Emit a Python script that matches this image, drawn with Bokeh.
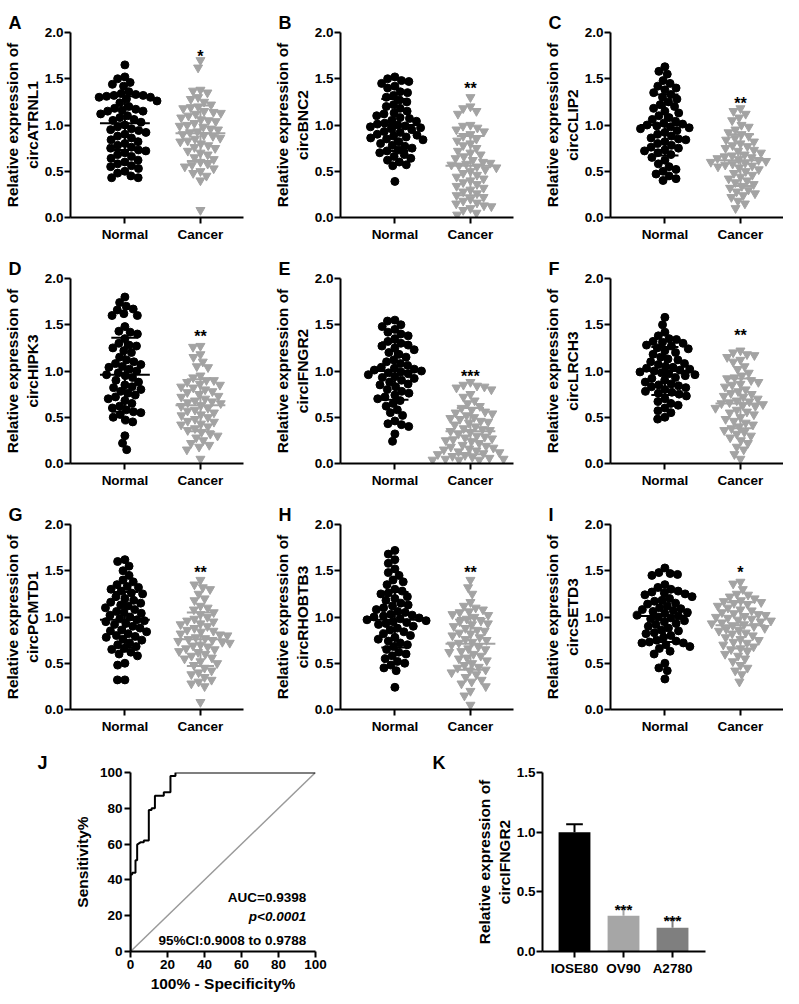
import math
from bokeh.plotting import figure
from bokeh.layouts import column, row
from bokeh.models import ColumnDataSource, FixedTicker, LinearAxis, Range1d, PrintfTickFormatter
from bokeh.core.properties import value
from bokeh.embed import file_html
from bokeh.resources import INLINE

FONT = "Liberation Sans"

# ---------------- data ----------------
panel_letters = ["A", "B", "C", "D", "E", "F", "G", "H", "I"]
gene_names = ["circATRNL1", "circBNC2", "circCLIP2", "circHIPK3", "circIFNGR2",
              "circLRCH3", "circPCMTD1", "circRHOBTB3", "circSETD3"]
group_labels = ["Normal", "Cancer"]
sig_marks = ["*", "**", "**", "**", "***", "**", "**", "**", "*"]
sig_y = [1.83, 1.48, 1.32, 1.46, 1.03, 1.47, 1.57, 1.57, 1.57]

normal_A = [1.65, 1.52, 1.50, 1.46, 1.44, 1.42, 1.36, 1.34, 1.33, 1.32, 1.32, 1.31, 1.30, 1.30, 1.28, 1.26,
            1.24, 1.20, 1.18, 1.17, 1.16, 1.15, 1.15, 1.12, 1.10, 1.08, 1.06, 1.05, 1.03, 1.00, 0.98, 0.96,
            0.95, 0.94, 0.92, 0.90, 0.88, 0.86, 0.84, 0.82, 0.80, 0.78, 0.76, 0.75, 0.73, 0.72, 0.70, 0.68,
            0.66, 0.64, 0.62, 0.60, 0.58, 0.56, 0.55, 0.53, 0.50, 0.48, 0.45, 0.43, 0.43]
cancer_A = [1.70, 1.62, 1.38, 1.37, 1.35, 1.30, 1.28, 1.25, 1.22, 1.20, 1.19, 1.18, 1.15, 1.14, 1.13, 1.12,
            1.10, 1.08, 1.06, 1.05, 1.04, 1.02, 1.00, 0.99, 0.98, 0.96, 0.95, 0.93, 0.92, 0.90, 0.89, 0.88,
            0.86, 0.85, 0.83, 0.82, 0.80, 0.78, 0.76, 0.75, 0.72, 0.70, 0.68, 0.65, 0.63, 0.60, 0.58, 0.57,
            0.55, 0.53, 0.50, 0.48, 0.45, 0.40, 0.08]
normal_B = [1.52, 1.50, 1.48, 1.47, 1.45, 1.42, 1.40, 1.36, 1.35, 1.32, 1.30, 1.27, 1.25, 1.22, 1.20, 1.18,
            1.15, 1.13, 1.12, 1.10, 1.08, 1.07, 1.05, 1.04, 1.02, 1.01, 1.00, 0.99, 0.98, 0.97, 0.96, 0.95,
            0.93, 0.92, 0.90, 0.89, 0.88, 0.87, 0.86, 0.85, 0.84, 0.82, 0.80, 0.78, 0.77, 0.75, 0.73, 0.72,
            0.70, 0.68, 0.66, 0.64, 0.62, 0.60, 0.57, 0.56, 0.39]
cancer_B = [1.30, 1.20, 1.18, 1.15, 1.12, 1.00, 0.99, 0.97, 0.95, 0.93, 0.90, 0.88, 0.85, 0.83, 0.80, 0.78,
            0.75, 0.72, 0.70, 0.68, 0.66, 0.64, 0.62, 0.60, 0.59, 0.58, 0.57, 0.56, 0.55, 0.54, 0.52, 0.50,
            0.48, 0.46, 0.44, 0.42, 0.40, 0.38, 0.36, 0.34, 0.32, 0.30, 0.28, 0.26, 0.24, 0.22, 0.20, 0.18,
            0.16, 0.15, 0.13, 0.12, 0.10, 0.08, 0.05, 0.03]
normal_C = [1.63, 1.58, 1.55, 1.48, 1.45, 1.42, 1.40, 1.38, 1.35, 1.33, 1.30, 1.28, 1.25, 1.22, 1.20, 1.18,
            1.15, 1.13, 1.10, 1.08, 1.06, 1.04, 1.02, 1.01, 1.00, 0.99, 0.98, 0.97, 0.96, 0.94, 0.92, 0.90,
            0.88, 0.86, 0.85, 0.84, 0.82, 0.80, 0.78, 0.76, 0.75, 0.73, 0.72, 0.70, 0.68, 0.65, 0.62, 0.58,
            0.55, 0.52, 0.50, 0.47, 0.45, 0.42, 0.40]
cancer_C = [1.18, 1.15, 1.12, 1.08, 1.05, 1.00, 0.98, 0.95, 0.92, 0.90, 0.88, 0.86, 0.84, 0.82, 0.80, 0.78,
            0.77, 0.75, 0.73, 0.72, 0.70, 0.68, 0.67, 0.66, 0.65, 0.64, 0.63, 0.62, 0.61, 0.60, 0.59, 0.58,
            0.57, 0.56, 0.55, 0.54, 0.52, 0.50, 0.48, 0.46, 0.44, 0.42, 0.40, 0.38, 0.36, 0.34, 0.32, 0.30,
            0.28, 0.26, 0.24, 0.22, 0.18, 0.15, 0.10]
normal_D = [1.80, 1.74, 1.70, 1.67, 1.66, 1.62, 1.60, 1.60, 1.48, 1.43, 1.42, 1.40, 1.35, 1.30, 1.28, 1.27,
            1.25, 1.22, 1.20, 1.15, 1.12, 1.10, 1.08, 1.07, 1.05, 1.04, 1.02, 1.00, 0.98, 0.96, 0.95, 0.93,
            0.90, 0.88, 0.85, 0.83, 0.82, 0.80, 0.78, 0.76, 0.74, 0.72, 0.70, 0.68, 0.65, 0.62, 0.60, 0.58,
            0.56, 0.55, 0.53, 0.50, 0.47, 0.45, 0.30, 0.22, 0.15]
cancer_D = [1.27, 1.26, 1.18, 1.15, 1.10, 1.05, 1.04, 0.95, 0.93, 0.90, 0.90, 0.88, 0.86, 0.85, 0.83, 0.82,
            0.80, 0.78, 0.77, 0.75, 0.73, 0.72, 0.70, 0.68, 0.67, 0.66, 0.65, 0.63, 0.62, 0.60, 0.58, 0.57,
            0.55, 0.53, 0.52, 0.50, 0.48, 0.46, 0.45, 0.43, 0.42, 0.40, 0.38, 0.36, 0.34, 0.32, 0.30, 0.28,
            0.25, 0.22, 0.20, 0.18, 0.15, 0.05]
normal_E = [1.55, 1.54, 1.50, 1.48, 1.45, 1.42, 1.40, 1.38, 1.35, 1.32, 1.30, 1.28, 1.27, 1.25, 1.23, 1.20,
            1.18, 1.15, 1.12, 1.10, 1.08, 1.06, 1.04, 1.03, 1.02, 1.01, 1.00, 0.99, 0.98, 0.97, 0.96, 0.94,
            0.93, 0.92, 0.90, 0.88, 0.86, 0.85, 0.83, 0.80, 0.78, 0.76, 0.74, 0.72, 0.70, 0.68, 0.65, 0.62,
            0.58, 0.55, 0.52, 0.46, 0.43, 0.42, 0.40, 0.32, 0.24]
cancer_E = [0.88, 0.85, 0.84, 0.83, 0.82, 0.80, 0.75, 0.72, 0.68, 0.65, 0.62, 0.60, 0.58, 0.56, 0.55, 0.54,
            0.52, 0.50, 0.49, 0.48, 0.46, 0.45, 0.44, 0.42, 0.40, 0.38, 0.37, 0.36, 0.35, 0.34, 0.32, 0.30,
            0.29, 0.28, 0.27, 0.26, 0.25, 0.24, 0.22, 0.20, 0.19, 0.18, 0.17, 0.16, 0.15, 0.14, 0.13, 0.12,
            0.11, 0.10, 0.09, 0.08, 0.07, 0.06, 0.05, 0.05, 0.04, 0.04, 0.04]
normal_F = [1.58, 1.50, 1.42, 1.38, 1.35, 1.34, 1.32, 1.31, 1.30, 1.28, 1.27, 1.25, 1.24, 1.22, 1.20, 1.18,
            1.15, 1.13, 1.12, 1.10, 1.08, 1.07, 1.05, 1.04, 1.03, 1.02, 1.01, 1.00, 0.99, 0.98, 0.97, 0.96,
            0.95, 0.93, 0.92, 0.90, 0.88, 0.86, 0.85, 0.84, 0.83, 0.82, 0.80, 0.78, 0.77, 0.76, 0.75, 0.73,
            0.70, 0.67, 0.65, 0.63, 0.60, 0.57, 0.55, 0.50, 0.48]
cancer_F = [1.22, 1.20, 1.18, 1.17, 1.15, 1.12, 1.10, 1.05, 1.02, 0.98, 0.95, 0.93, 0.92, 0.90, 0.88, 0.86,
            0.85, 0.83, 0.80, 0.78, 0.76, 0.75, 0.73, 0.72, 0.70, 0.68, 0.67, 0.66, 0.65, 0.64, 0.63, 0.62,
            0.60, 0.58, 0.56, 0.55, 0.53, 0.50, 0.48, 0.46, 0.44, 0.42, 0.40, 0.38, 0.36, 0.34, 0.32, 0.30,
            0.28, 0.25, 0.22, 0.18, 0.15, 0.10, 0.05]
normal_G = [1.62, 1.60, 1.55, 1.50, 1.45, 1.40, 1.38, 1.35, 1.33, 1.32, 1.30, 1.28, 1.26, 1.25, 1.22, 1.20,
            1.18, 1.16, 1.15, 1.13, 1.12, 1.10, 1.08, 1.06, 1.05, 1.04, 1.02, 1.00, 0.98, 0.97, 0.96, 0.95,
            0.93, 0.92, 0.90, 0.88, 0.86, 0.85, 0.84, 0.82, 0.80, 0.79, 0.78, 0.76, 0.75, 0.72, 0.70, 0.68,
            0.66, 0.65, 0.62, 0.60, 0.58, 0.50, 0.48, 0.32, 0.32]
cancer_G = [1.40, 1.35, 1.32, 1.30, 1.25, 1.20, 1.18, 1.12, 1.10, 1.08, 1.05, 1.03, 1.00, 0.98, 0.96, 0.95,
            0.93, 0.92, 0.90, 0.88, 0.86, 0.85, 0.84, 0.82, 0.81, 0.80, 0.78, 0.77, 0.76, 0.75, 0.74, 0.73,
            0.72, 0.70, 0.69, 0.68, 0.66, 0.65, 0.63, 0.62, 0.60, 0.58, 0.56, 0.55, 0.52, 0.50, 0.48, 0.45,
            0.42, 0.40, 0.38, 0.35, 0.32, 0.30, 0.28, 0.25, 0.08]
normal_H = [1.72, 1.68, 1.62, 1.58, 1.52, 1.48, 1.45, 1.40, 1.38, 1.35, 1.30, 1.28, 1.26, 1.25, 1.22, 1.20,
            1.18, 1.15, 1.13, 1.12, 1.10, 1.08, 1.06, 1.05, 1.03, 1.02, 1.01, 1.00, 0.99, 0.98, 0.97, 0.96,
            0.95, 0.94, 0.93, 0.92, 0.90, 0.88, 0.86, 0.84, 0.82, 0.80, 0.78, 0.76, 0.74, 0.72, 0.70, 0.68,
            0.65, 0.62, 0.60, 0.58, 0.55, 0.52, 0.50, 0.48, 0.45, 0.42, 0.24]
cancer_H = [1.40, 1.32, 1.25, 1.16, 1.12, 1.10, 1.08, 1.06, 1.05, 1.03, 1.02, 1.00, 0.98, 0.96, 0.95, 0.93,
            0.92, 0.90, 0.88, 0.86, 0.85, 0.83, 0.82, 0.80, 0.78, 0.76, 0.75, 0.73, 0.72, 0.70, 0.68, 0.66,
            0.65, 0.63, 0.62, 0.60, 0.58, 0.56, 0.55, 0.53, 0.50, 0.48, 0.46, 0.45, 0.43, 0.42, 0.40, 0.38,
            0.35, 0.32, 0.30, 0.28, 0.25, 0.20, 0.15, 0.05]
normal_I = [1.53, 1.48, 1.47, 1.46, 1.45, 1.35, 1.32, 1.30, 1.28, 1.27, 1.26, 1.25, 1.24, 1.22, 1.20, 1.18,
            1.17, 1.15, 1.14, 1.12, 1.10, 1.09, 1.08, 1.07, 1.06, 1.05, 1.04, 1.02, 1.01, 1.00, 0.99, 0.98,
            0.96, 0.95, 0.93, 0.92, 0.90, 0.88, 0.86, 0.85, 0.83, 0.82, 0.80, 0.78, 0.75, 0.74, 0.73, 0.72,
            0.72, 0.70, 0.68, 0.66, 0.63, 0.60, 0.50, 0.45, 0.42, 0.33]
cancer_I = [1.38, 1.36, 1.30, 1.25, 1.24, 1.22, 1.20, 1.18, 1.17, 1.16, 1.15, 1.14, 1.12, 1.10, 1.08, 1.07,
            1.05, 1.04, 1.03, 1.02, 1.01, 1.00, 0.99, 0.98, 0.97, 0.96, 0.95, 0.94, 0.93, 0.92, 0.91, 0.90,
            0.88, 0.87, 0.86, 0.85, 0.83, 0.82, 0.80, 0.78, 0.76, 0.75, 0.73, 0.72, 0.70, 0.68, 0.66, 0.65,
            0.63, 0.60, 0.58, 0.55, 0.52, 0.48, 0.45, 0.42, 0.38, 0.30]

normal_sets = [normal_A, normal_B, normal_C, normal_D, normal_E, normal_F, normal_G, normal_H, normal_I]
cancer_sets = [cancer_A, cancer_B, cancer_C, cancer_D, cancer_E, cancer_F, cancer_G, cancer_H, cancer_I]

normal_means = [1.02, 1.00, 1.00, 0.96, 1.00, 1.00, 0.97, 0.97, 1.01]
normal_sds = [0.29, 0.28, 0.33, 0.40, 0.31, 0.26, 0.30, 0.30, 0.28]
cancer_means = [0.91, 0.56, 0.62, 0.63, 0.35, 0.65, 0.76, 0.71, 0.91]
cancer_sds = [0.30, 0.32, 0.28, 0.28, 0.25, 0.27, 0.29, 0.28, 0.25]

# ROC curve (panel J)
roc_fpr = [0, 0, 0.9, 0.9, 2.7, 2.7, 3.6, 3.6, 5.4, 7.2, 7.2, 9.9, 9.9, 11.4, 11.4, 13.2, 13.2,
           18.0, 18.0, 21.6, 21.6, 24.3, 24.3, 100]
roc_tpr = [0, 43, 43, 44, 44, 51, 51, 59.7, 61, 61, 62, 62, 79, 79, 80, 80, 87,
           87, 89, 89, 98, 98, 100, 100]
chance_line = [0, 100]
roc_texts = ["AUC=0.9398", "p<0.0001", "95%CI:0.9008 to 0.9788"]

# Cell lines (panel K)
cell_lines = ["IOSE80", "OV90", "A2780"]
cell_means = [1.00, 0.30, 0.20]
cell_errs = [0.066, 0.066, 0.072]
cell_sig = ["", "***", "***"]

# ---------------- styling ----------------
BLACK = "#000000"
GREY = "#a3a3a3"
BAR_COLORS = ["#000000", "#a6a6a6", "#7f7f7f"]
TICK_FS = "13.5px"
LAB_FS = "15.5px"


def style_axes(p):
    p.xgrid.visible = False
    p.ygrid.visible = False
    p.outline_line_color = None
    for ax in list(p.xaxis) + list(p.yaxis):
        ax.axis_line_width = 2
        ax.axis_line_color = BLACK
        ax.major_tick_line_width = 2
        ax.major_tick_line_color = BLACK
        ax.major_tick_out = 6
        ax.major_tick_in = 0
        ax.minor_tick_line_color = None
        ax.major_label_text_font = FONT
        ax.major_label_text_font_style = "bold"
        ax.major_label_text_font_size = TICK_FS
        ax.major_label_text_color = BLACK
        ax.major_label_standoff = 2
        ax.axis_label_text_font = FONT
        ax.axis_label_text_font_style = "bold"
        ax.axis_label_text_font_size = LAB_FS
        ax.axis_label_text_color = BLACK


def set_letter(p, letter, offset):
    p.title.text = letter
    p.title.align = "left"
    p.title.offset = offset
    p.title.standoff = 0
    p.title.text_font = FONT
    p.title.text_font_style = "bold"
    p.title.text_font_size = "18px"
    p.title.text_color = BLACK


def two_line_ylabel(p, inner, outer, standoff=1):
    yax = p.yaxis[0]
    yax.axis_label = inner
    yax.axis_label_standoff = standoff
    yax.major_label_standoff = 1
    extra = LinearAxis(ticker=FixedTicker(ticks=[]), axis_line_color=None,
                       major_tick_line_color=None, minor_tick_line_color=None,
                       major_tick_out=0, major_tick_in=0,
                       axis_label=outer, axis_label_standoff=0,
                       axis_label_text_font=FONT, axis_label_text_font_style="bold",
                       axis_label_text_font_size=LAB_FS, axis_label_text_color=BLACK)
    p.add_layout(extra, "left")


def swarm(vals, d=7.8, xpx=79.0, ypx=92.5):
    order = sorted(range(len(vals)), key=lambda i: -vals[i])
    placed = []
    offs = [0.0] * len(vals)
    for i in order:
        y = vals[i] * ypx
        cands = [0.0]
        for (px, py) in placed:
            dy = y - py
            if abs(dy) < d:
                dx = math.sqrt(d * d - dy * dy)
                cands += [px + dx, px - dx]
        cands.sort(key=lambda c: (abs(c), c))
        chosen = 0.0
        for c in cands:
            if all((c - px) ** 2 + (y - py) ** 2 >= d * d - 1e-6 for (px, py) in placed):
                chosen = c
                break
        placed.append((chosen, y))
        offs[i] = chosen / xpx
    return offs


X_RANGE = (0.28, 2.57)


def scatter_panel(k, last_col, first_row):
    width = 243 if last_col else 270
    top = 32 if first_row else 24
    p = figure(width=width, height=top + 222, x_range=Range1d(*X_RANGE), y_range=Range1d(0, 2),
               output_backend="svg", toolbar_location=None,
               min_border_left=62, min_border_right=(0 if last_col else 27),
               min_border_top=top, min_border_bottom=37)
    style_axes(p)
    p.xaxis.ticker = FixedTicker(ticks=[1, 2])
    p.xaxis.major_label_overrides = {1: group_labels[0], 2: group_labels[1]}
    p.xaxis.major_label_standoff = 3
    p.yaxis.ticker = FixedTicker(ticks=[0, 0.5, 1.0, 1.5, 2.0])
    p.yaxis.formatter = PrintfTickFormatter(format="%.1f")
    two_line_ylabel(p, gene_names[k], "Relative expression of")
    set_letter(p, panel_letters[k], -62)

    nv = normal_sets[k]
    cv = cancer_sets[k]
    nx = [1 + o for o in swarm(nv)]
    cx = [2 + o for o in swarm(cv)]
    p.scatter(x=nx, y=nv, marker="circle", size=8, fill_color=BLACK, line_color=BLACK)
    p.scatter(x=cx, y=cv, marker="inverted_triangle", size=9, fill_color=GREY, line_color=GREY)

    for gx, m, s, col in ((1, normal_means[k], normal_sds[k], BLACK), (2, cancer_means[k], cancer_sds[k], GREY)):
        p.segment(x0=[gx - 0.33], y0=[m], x1=[gx + 0.33], y1=[m], line_color=col, line_width=2)
        p.segment(x0=[gx], y0=[m - s], x1=[gx], y1=[m + s], line_color=col, line_width=2)
        p.segment(x0=[gx - 0.18, gx - 0.18], y0=[m - s, m + s], x1=[gx + 0.18, gx + 0.18],
                  y1=[m - s, m + s], line_color=col, line_width=2)

    p.text(x=[2], y=[sig_y[k] - 8 / 92.5], text=[sig_marks[k]], text_font=value(FONT),
           text_font_style="bold", text_font_size="16px", text_align="center",
           text_baseline="alphabetic", text_color=BLACK)
    return p


rows = []
for r in range(3):
    rows.append(row(*[scatter_panel(3 * r + c, c == 2, r == 0) for c in range(3)]))

# ---------------- panel J ----------------
pj = figure(width=420, height=250, x_range=Range1d(0, 100), y_range=Range1d(0, 100),
            output_backend="svg", toolbar_location=None,
            min_border_left=130, min_border_right=105, min_border_top=21, min_border_bottom=45)
style_axes(pj)
pj.xaxis.ticker = FixedTicker(ticks=[0, 20, 40, 60, 80, 100])
pj.yaxis.ticker = FixedTicker(ticks=[0, 20, 40, 60, 80, 100])
pj.xaxis.axis_label = "100% - Specificity%"
pj.yaxis.axis_label = "Sensitivity%"
pj.xaxis.axis_label_standoff = 3
pj.yaxis.axis_label_standoff = 6
set_letter(pj, "J", -93)
pj.line(chance_line, chance_line, line_color="#9a9a9a", line_width=1.5)
pj.line(roc_fpr, roc_tpr, line_color=BLACK, line_width=2)
pj.text(x=[95, 95, 95], y=[30, 19.5, 6], text=roc_texts, text_font=value(FONT),
        text_font_style=["bold", "bold italic", "bold"], text_font_size="13.5px",
        text_align="right", text_baseline="middle", text_color=BLACK)

# ---------------- panel K ----------------
pk = figure(width=363, height=250, x_range=Range1d(-0.653, 2.673), y_range=Range1d(0, 1.5),
            output_backend="svg", toolbar_location=None,
            min_border_left=122, min_border_right=78, min_border_top=26, min_border_bottom=39)
style_axes(pk)
pk.xaxis.ticker = FixedTicker(ticks=[0, 1, 2])
pk.xaxis.major_label_overrides = {0: cell_lines[0], 1: cell_lines[1], 2: cell_lines[2]}
pk.xaxis.major_label_standoff = 3
pk.yaxis.ticker = FixedTicker(ticks=[0, 0.5, 1.0, 1.5])
pk.yaxis.formatter = PrintfTickFormatter(format="%.1f")
two_line_ylabel(pk, "circIFNGR2", "Relative expression of", standoff=1)
set_letter(pk, "K", -110)
kx = [0, 1, 2]
ksrc = ColumnDataSource(dict(x=kx, top=cell_means, color=BAR_COLORS,
                             lo=cell_means, hi=[m + e for m, e in zip(cell_means, cell_errs)],
                             cl=[x - 0.17 for x in kx], cr=[x + 0.17 for x in kx]))
pk.segment(x0="x", y0="lo", x1="x", y1="hi", line_color="color", line_width=2, source=ksrc)
pk.segment(x0="cl", y0="hi", x1="cr", y1="hi", line_color="color", line_width=2, source=ksrc)
pk.vbar(x="x", top="top", width=0.65, bottom=0, fill_color="color", line_color=None, source=ksrc)
star_px = 8 / (185 / 1.5)
pk.text(x=kx, y=[h + 0.05 - star_px for h in ksrc.data["hi"]], text=cell_sig, text_font=value(FONT),
        text_font_style="bold", text_font_size="15px", text_align="center",
        text_baseline="alphabetic", text_color=BLACK)

layout = column(*rows, row(pj, pk))
open("out.html", "w").write(file_html(layout, INLINE))
